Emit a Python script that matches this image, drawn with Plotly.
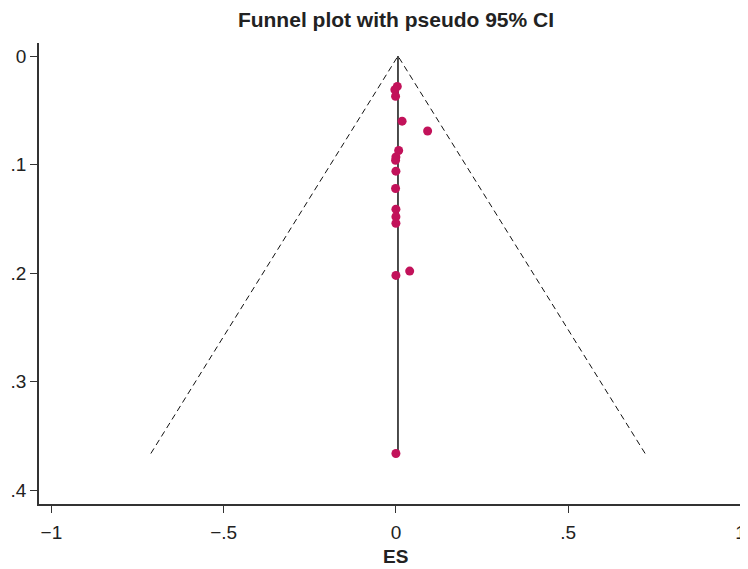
import plotly.graph_objects as go

# Study effect sizes (ES) and their standard errors (SE)
es = [0.004, -0.003, -0.001, 0.018, 0.092, 0.008, 0.000, -0.001, 0.000,
      -0.001, 0.000, 0.000, 0.000, 0.000, 0.040, 0.000]
se = [0.028, 0.031, 0.037, 0.060, 0.069, 0.087, 0.093, 0.096, 0.106,
      0.122, 0.141, 0.148, 0.154, 0.202, 0.198, 0.366]

pooled_es = 0.006
z95 = 1.96
se_max = max(se)

x_ticks = [-1, -0.5, 0, 0.5, 1]
x_tick_labels = ["\u22121", "\u2212.5", "0", ".5", "1"]
y_ticks = [0, 0.1, 0.2, 0.3, 0.4]
y_tick_labels = ["0", ".1", ".2", ".3", ".4"]

fig = go.Figure()

# pseudo 95% CI funnel
fig.add_trace(go.Scatter(
    x=[pooled_es - z95 * se_max, pooled_es, pooled_es + z95 * se_max],
    y=[se_max, 0, se_max],
    mode="lines",
    line=dict(color="#111111", width=1, dash="6px,4px"),
    hoverinfo="skip", showlegend=False))

# pooled estimate line
fig.add_trace(go.Scatter(
    x=[pooled_es, pooled_es], y=[0, se_max],
    mode="lines", line=dict(color="#111111", width=1.5),
    hoverinfo="skip", showlegend=False))

# studies
fig.add_trace(go.Scatter(
    x=es, y=se, mode="markers",
    marker=dict(color="#C2125A", size=9, line=dict(width=0)),
    showlegend=False))

font_family = "Liberation Sans, Arial, sans-serif"

fig.update_layout(
    width=740, height=561,
    margin=dict(l=31, r=0, t=35, b=65),
    paper_bgcolor="white", plot_bgcolor="white",
    font=dict(family=font_family, color="#222222", size=19),
    title=dict(text="<b>Funnel plot with pseudo 95% CI</b>",
               xref="paper", x=0.5035, xanchor="center",
               yref="container", y=1 - 12 / 561, yanchor="middle",
               font=dict(size=21, color="#222222", family=font_family)),
    xaxis=dict(range=[-1.036, 1.022], tickvals=x_ticks, ticktext=x_tick_labels,
               showgrid=False, zeroline=False, showline=True,
               linecolor="#333333", linewidth=1.5,
               ticks="outside", ticklen=7, tickcolor="#333333", tickwidth=1.2,
               ticklabelstandoff=3,
               tickfont=dict(size=19, color="#222222")),
    yaxis=dict(range=[0.4125, -0.012], tickvals=y_ticks, ticktext=y_tick_labels,
               showgrid=False, zeroline=False, showline=True,
               linecolor="#333333", linewidth=1.5,
               ticks="outside", ticklen=7, tickcolor="#333333", tickwidth=1.2,
               tickfont=dict(size=19, color="#222222")),
    annotations=[dict(text="<b>ES</b>", xref="paper", yref="paper",
                      x=0.5035, y=-0.113, xanchor="center", yanchor="middle",
                      showarrow=False,
                      font=dict(size=19, color="#222222", family=font_family))],
)

fig.write_html("out.html")
